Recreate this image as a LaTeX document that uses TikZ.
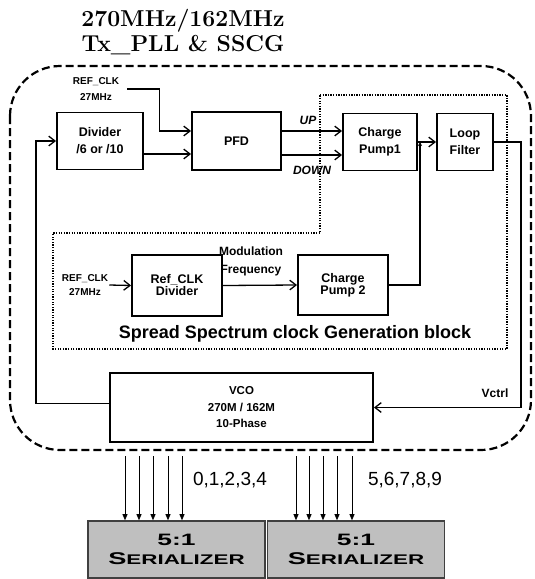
\documentclass[tikz,border=0pt]{standalone}
\usepackage{fontspec}
\setsansfont{Liberation Sans}
\newfontfamily\serfont[FakeStretch=1.6]{Liberation Sans}
\usetikzlibrary{arrows.meta,calc}

\begin{document}
\begin{tikzpicture}[x=1pt,y=-1pt,
  >={Straight Barb[length=2.2mm,width=3.4mm]},
  blk/.style={draw,line width=1.9pt,inner sep=1pt,align=center,
    font=\fontsize{12.5}{17}\selectfont\sffamily\bfseries},
  lbl/.style={inner sep=1pt,align=center,font=\fontsize{10}{16}\selectfont\sffamily\bfseries},
  wire/.style={line width=1.3pt},
  phase/.style={line width=0.7pt,-{Triangle[length=6pt,width=5pt]}},
  ser/.style={draw=black!75,fill=black!25,line width=1.6pt,minimum width=177pt,
    minimum height=57pt,align=center,font=\serfont\bfseries},
  outer/.style={line width=2.2pt,dash pattern=on 8pt off 4pt,rounded corners=50pt},
  sscg/.style={line width=2pt,dash pattern=on 1.3pt off 1.3pt}]
  \useasboundingbox (0,0) rectangle (535,579);

  % title and the two enclosures
  \node[align=center,font=\fontsize{23}{25}\selectfont\bfseries] (ttl) at (183,32) {270MHz/162MHz\\Tx\_PLL \& SSCG};
  \draw[outer] (10,66) rectangle (531,450);
  \draw[sscg] (320,95) -- (507,95) -- (507,349) -- (53,349) -- (53,233) -- (320,233) -- cycle;

  % PLL blocks
  \node[blk,minimum width=86pt,minimum height=57pt] (div) at (100,141) {Divider\\/6 or /10};
  \node[blk,minimum width=89pt,minimum height=58pt] (pfd) at (236.5,141) {PFD};
  \node[blk,minimum width=74pt,minimum height=57pt] (cp1) at (380,142) {Charge\\Pump1};
  \node[blk,minimum width=56pt,minimum height=57pt] (lf) at (465,142) {Loop\\Filter};
  \node[blk,minimum width=263pt,minimum height=69pt,font=\fontsize{11.5}{16.5}\selectfont\sffamily\bfseries] (vco) at (241.5,407.5) {VCO\\270M / 162M\\10-Phase};
  \node[lbl] (refa) at (96,89) {REF\_CLK\\27MHz};

  % SSCG blocks
  \node[blk,minimum width=90pt,minimum height=61pt,font=\fontsize{12.5}{12}\selectfont\sffamily\bfseries] (rdiv) at (177,285.5) {Ref\_CLK\\Divider};
  \node[blk,minimum width=90pt,minimum height=60pt,font=\fontsize{12.5}{12}\selectfont\sffamily\bfseries] (cp2) at (343,285) {Charge\\Pump 2};
  \node[lbl,font=\fontsize{10}{14}\selectfont\sffamily\bfseries] (refb) at (85,285) {REF\_CLK\\27MHz};
  \node[lbl,font=\fontsize{12}{18}\selectfont\sffamily\bfseries] (modf) at (251,261) {Modulation\\Frequency};
  \node[font=\fontsize{18}{18}\selectfont\sffamily\bfseries] (sstl) at (295,334) {Spread Spectrum clock Generation block};

  % loop wiring
  \coordinate (jn) at (420,142);
  \draw[wire,->] ([xshift=7pt]refa.east) -- ++(32,0) |- ([yshift=10pt]pfd.west);
  \draw[wire,->] ([yshift=-13pt]div.east) -- ([yshift=-13pt]div.east -| pfd.west);
  \draw[wire,->] ([yshift=10pt]pfd.east) -- ([yshift=10pt]pfd.east -| cp1.west);
  \draw[wire,->] ([yshift=-14pt]pfd.east) -- ([yshift=-14pt]pfd.east -| cp1.west);
  \node[font=\fontsize{12}{12}\selectfont\sffamily\bfseries\itshape] (up) at (308,120) {UP};
  \node[font=\fontsize{12}{12}\selectfont\sffamily\bfseries\itshape] (dn) at (312,170) {DOWN};
  \draw[wire,->] (cp1.east) -- (lf.west);
  \draw[wire,-{Stealth[length=4pt,width=4pt]}] (cp2.east) -| (jn);
  \draw[wire,->] (lf.east) -- ++(27,0) |- (vco.east);
  \node[font=\fontsize{12}{12}\selectfont\sffamily\bfseries] (vctl) at (495,393) {Vctrl};
  \draw[wire,->] ([yshift=4pt]vco.west) -- ++(-73,0) |- (div.west);
  \draw[wire,->] (refb.east) -- (rdiv.west);
  \draw[wire,->] (rdiv.east) -- (cp2.west);

  % serializers
  \node[ser] (ser1) at (176.5,549.5) {\fontsize{16.5}{16.5}\selectfont 5:1\\[6pt]{\fontsize{17}{17}\selectfont S}{\fontsize{14}{14}\selectfont ERIALIZER}};
  \node[ser] (ser2) at (356,549.5) {\fontsize{16.5}{16.5}\selectfont 5:1\\[6pt]{\fontsize{17}{17}\selectfont S}{\fontsize{14}{14}\selectfont ERIALIZER}};
  \foreach \dx in {-51.5,-37.5,-23.5,-8.5,5.5}
    \draw[phase] ($(ser1.north)+(\dx,-64)$) -- ($(ser1.north)+(\dx,0)$);
  \foreach \dx in {-60,-47,-33,-19,-4}
    \draw[phase] ($(ser2.north)+(\dx,-64)$) -- ($(ser2.north)+(\dx,0)$);
  \node[font=\fontsize{19}{19}\selectfont\sffamily] (pa) at (230,480) {0,1,2,3,4};
  \node[font=\fontsize{19}{19}\selectfont\sffamily] (pb) at (405,480) {5,6,7,8,9};
\end{tikzpicture}
\end{document}
